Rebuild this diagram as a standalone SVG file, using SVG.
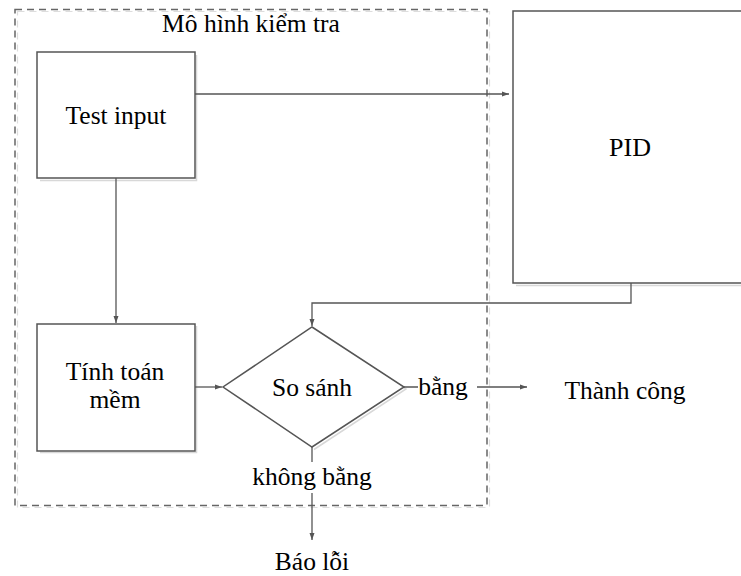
<svg xmlns="http://www.w3.org/2000/svg" width="741" height="576" viewBox="0 0 741 576">
<style>
text{font-family:"Liberation Serif","Times New Roman",serif;font-size:25.5px;fill:#000;text-anchor:middle}
.box{fill:#fff;stroke:#555;stroke-width:1.5}
.sh{fill:none;stroke:#d8d8d8;stroke-width:1.5}
.ln{fill:none;stroke:#555;stroke-width:1.3}
.dash{fill:none;stroke:#666;stroke-width:1.5;stroke-dasharray:7 5}
.dsh{fill:none;stroke:#ddd;stroke-width:1.2;stroke-dasharray:7 5}
</style>
<defs>
<marker id="ar" markerWidth="8" markerHeight="6" refX="7" refY="3" orient="auto" markerUnits="userSpaceOnUse">
<path d="M0,0.5 L7,3 L0,5.5 z" fill="#555"/>
</marker>
</defs>
<rect width="741" height="576" fill="#fff"/>
<g id="frame">
<rect class="dsh" x="17.5" y="11.5" width="472" height="496"/>
<rect class="dash" x="15" y="9.5" width="472" height="496"/>
<text x="251" y="32">Mô hình kiểm tra</text>
</g>
<g id="test-input">
<path class="sh" d="M196.5,55 V180.5 H40"/>
<rect class="box" x="37" y="52" width="158" height="126"/>
<text x="116" y="124">Test input</text>
</g>
<g id="pid">
<path class="sh" d="M516,285.5 H745"/>
<rect class="box" x="513" y="11" width="240" height="272"/>
<text x="630" y="156" style="font-size:26px">PID</text>
</g>
<g id="tinh-toan">
<path class="sh" d="M196.5,326 V452.5 H40"/>
<rect class="box" x="37" y="324" width="158" height="127"/>
<text x="115" y="380">Tính toán</text>
<text x="115" y="408">mềm</text>
</g>
<g id="so-sanh">
<path class="sh" d="M314,329.5 L406,389 L314,449.5"/>
<path class="box" d="M312,327 L404,387 L312,447 L223,387 Z"/>
<text x="312" y="396">So sánh</text>
</g>
<g id="connectors">
<path class="ln" d="M195,94 H509" marker-end="url(#ar)"/>
<path class="ln" d="M116,178 V323" marker-end="url(#ar)"/>
<path class="ln" d="M195,387 H222" marker-end="url(#ar)"/>
<path class="ln" d="M631,283 V303 H312 V326" marker-end="url(#ar)"/>
<path class="ln" d="M404,387 H527" marker-end="url(#ar)"/>
<path class="ln" d="M312,447 V540" marker-end="url(#ar)"/>
<rect x="418" y="370" width="59" height="31" fill="#fff"/>
<text x="443" y="395">bằng</text>
<rect x="252" y="462" width="120" height="31" fill="#fff"/>
<text x="312" y="485">không bằng</text>
</g>
<g id="thanh-cong">
<text x="625" y="399">Thành công</text>
</g>
<g id="bao-loi">
<text x="312" y="570">Báo lỗi</text>
</g>
</svg>
